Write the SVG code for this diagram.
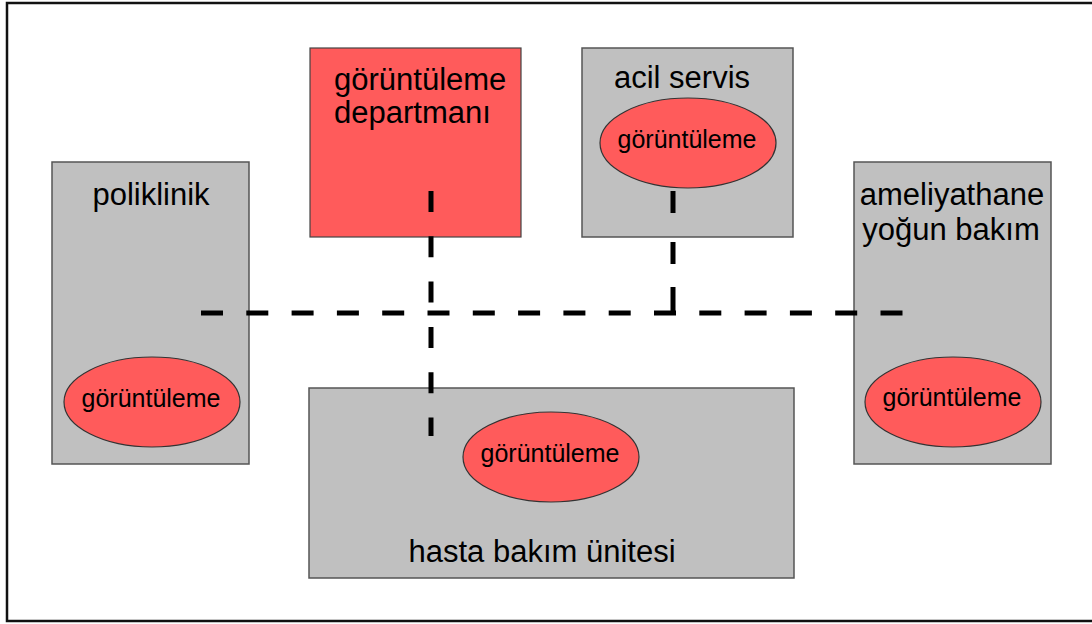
<svg xmlns="http://www.w3.org/2000/svg" width="1092" height="624" viewBox="0 0 1092 624">
<style>
.box{fill:#C0C0C0;stroke:#555555;stroke-width:1.5}
.red{fill:#FF5B5B;stroke:#444444;stroke-width:1.2}
.ell{fill:#FF5B5B;stroke:#333333;stroke-width:1.2}
.lbl{font-family:"Liberation Sans",Arial,sans-serif;font-size:31px;fill:#000}
.sm{font-family:"Liberation Sans",Arial,sans-serif;font-size:25px;fill:#000}
.dash{stroke:#000;stroke-width:5;fill:none}
</style>
<rect x="0" y="0" width="1092" height="624" fill="#ffffff"/>
<rect x="7" y="3" width="1092" height="618" fill="none" stroke="#111111" stroke-width="2.5"/>
<g id="poliklinik">
<rect class="box" x="52" y="162" width="197" height="302"/>
<text class="lbl" x="151" y="205" text-anchor="middle">poliklinik</text>
<ellipse class="ell" cx="152" cy="402" rx="88" ry="45"/>
<text class="sm" x="151" y="407" text-anchor="middle">görüntüleme</text>
</g>
<g id="goruntuleme-departmani">
<rect class="red" x="310" y="48" width="211" height="189"/>
<text class="lbl" x="334" y="90">görüntüleme</text>
<text class="lbl" x="334" y="123">departmanı</text>
</g>
<g id="acil-servis">
<rect class="box" x="582" y="48" width="211" height="189"/>
<text class="lbl" x="682" y="88" text-anchor="middle">acil servis</text>
<ellipse class="ell" cx="688" cy="143" rx="88" ry="45"/>
<text class="sm" x="687" y="148" text-anchor="middle">görüntüleme</text>
</g>
<g id="ameliyathane">
<rect class="box" x="854" y="162" width="197" height="302"/>
<text class="lbl" x="952" y="205" text-anchor="middle">ameliyathane</text>
<text class="lbl" x="951" y="240" text-anchor="middle">yoğun bakım</text>
<ellipse class="ell" cx="953" cy="402" rx="88" ry="45"/>
<text class="sm" x="952" y="406" text-anchor="middle">görüntüleme</text>
</g>
<g id="hasta-bakim-unitesi">
<rect class="box" x="309" y="388" width="485" height="190"/>
<ellipse class="ell" cx="551" cy="457" rx="88" ry="45"/>
<text class="sm" x="550" y="462" text-anchor="middle">görüntüleme</text>
<text class="lbl" x="542" y="562" text-anchor="middle">hasta bakım ünitesi</text>
</g>
<g id="connectors">
<line class="dash" x1="201" y1="313" x2="905" y2="313" stroke-dasharray="22 23.3"/>
<line class="dash" x1="431" y1="191" x2="431" y2="436" stroke-dasharray="21 24.3"/>
<line class="dash" x1="673" y1="191" x2="673" y2="313" stroke-dasharray="22 29 22 23 26"/>
</g>
</svg>
